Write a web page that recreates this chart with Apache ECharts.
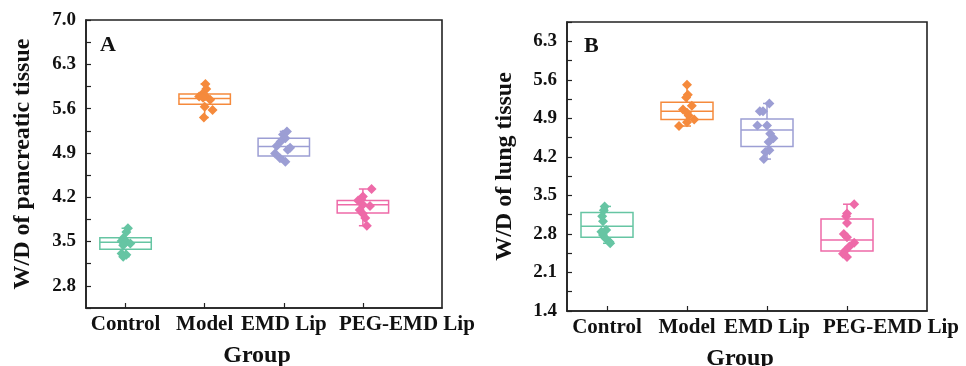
<!DOCTYPE html>
<html lang="en">
<head>
    <meta charset="UTF-8">
    <title>W/D boxplots</title>
    <script src="https://cdn.jsdelivr.net/npm/echarts/dist/echarts.min.js"></script>
    <style>
        body { margin: 0; background: #fff; }
        #main { width: 966px; height: 366px; }
    </style>
</head>
<body>
    <div id="main"></div>
    <script>
        // groups and colours
        const CATEGORIES = ['Control', 'Model', 'EMD Lip', 'PEG-EMD Lip'];
        const COLORS = ['#66c5a3', '#f58a3c', '#9c9ed4', '#ee6aa8'];

        // box stats per group: [min, Q1, median, Q3, max]
        const boxA = [
            [3.26, 3.38, 3.49, 3.56, 3.71],
            [5.46, 5.67, 5.76, 5.83, 5.99],
            [4.76, 4.85, 5.00, 5.13, 5.24],
            [3.75, 3.95, 4.08, 4.15, 4.33]
        ];
        const boxB = [
            [2.63, 2.74, 2.94, 3.19, 3.30],
            [4.76, 4.88, 5.03, 5.19, 5.51],
            [4.16, 4.39, 4.69, 4.89, 5.17],
            [2.38, 2.49, 2.69, 3.07, 3.34]
        ];

        // individual points (values) and their horizontal jitter
        const ptsA = [
            [3.71, 3.65, 3.55, 3.51, 3.50, 3.47, 3.44, 3.31, 3.29, 3.26],
            [5.99, 5.91, 5.83, 5.80, 5.79, 5.77, 5.74, 5.63, 5.58, 5.46],
            [5.24, 5.19, 5.13, 5.08, 5.01, 4.98, 4.95, 4.89, 4.82, 4.76],
            [4.33, 4.21, 4.17, 4.15, 4.08, 4.06, 4.00, 3.94, 3.87, 3.75]
        ];
        const jitA = [
            [0.03, 0.01, -0.03, -0.05, 0.01, 0.06, -0.03, -0.05, 0.01, -0.03],
            [0.01, 0.02, -0.03, 0.01, -0.07, -0.02, 0.07, 0.00, 0.10, -0.01],
            [0.04, -0.01, 0.02, -0.04, -0.09, 0.08, 0.05, -0.11, -0.05, 0.02],
            [0.11, 0.00, -0.02, -0.06, 0.00, 0.09, -0.04, 0.00, 0.03, 0.05]
        ];
        const ptsB = [
            [3.30, 3.23, 3.12, 3.03, 2.87, 2.84, 2.78, 2.72, 2.66, 2.63],
            [5.51, 5.33, 5.28, 5.13, 5.06, 5.00, 4.95, 4.88, 4.83, 4.76],
            [5.17, 5.03, 5.03, 4.77, 4.77, 4.62, 4.54, 4.47, 4.32, 4.29, 4.16],
            [3.34, 3.17, 3.12, 3.00, 2.80, 2.74, 2.64, 2.57, 2.50, 2.44, 2.38]
        ];
        const jitB = [
            [-0.03, -0.04, -0.06, -0.05, -0.01, -0.07, -0.05, -0.02, 0.03, 0.04],
            [0.00, 0.01, -0.01, 0.06, -0.05, 0.00, 0.02, 0.09, 0.00, -0.10],
            [0.03, -0.09, -0.05, -0.12, 0.00, 0.04, 0.08, 0.02, 0.03, -0.02, -0.04],
            [0.09, 0.00, -0.01, 0.00, -0.04, 0.00, 0.09, 0.03, -0.02, -0.05, 0.00]
        ];

        const BOX_W = 0.65;   // box width in x units
        const FONT = "'Liberation Serif', 'Times New Roman', serif";

        var chartDom = document.getElementById('main');
        var myChart = echarts.init(chartDom);

        function renderBox(params, api) {
            var x = api.value(0);
            var color = COLORS[api.value(6)];
            var half = api.size([BOX_W, 0])[0] / 2;
            var pLo = api.coord([x, api.value(1)]);
            var pQ1 = api.coord([x, api.value(2)]);
            var pMed = api.coord([x, api.value(3)]);
            var pQ3 = api.coord([x, api.value(4)]);
            var pHi = api.coord([x, api.value(5)]);
            var cx = pMed[0];
            var cap = 4;
            var style = { stroke: color, lineWidth: 1.5, fill: null };
            return {
                type: 'group',
                children: [
                    { type: 'line', shape: { x1: cx, y1: pQ3[1], x2: cx, y2: pHi[1] }, style: style },
                    { type: 'line', shape: { x1: cx, y1: pQ1[1], x2: cx, y2: pLo[1] }, style: style },
                    { type: 'line', shape: { x1: cx - cap, y1: pHi[1], x2: cx + cap, y2: pHi[1] }, style: style },
                    { type: 'line', shape: { x1: cx - cap, y1: pLo[1], x2: cx + cap, y2: pLo[1] }, style: style },
                    { type: 'rect', shape: { x: cx - half, y: pQ3[1], width: half * 2, height: pQ1[1] - pQ3[1] },
                      style: { stroke: color, lineWidth: 1.5, fill: '#fff' } },
                    { type: 'line', shape: { x1: cx - half, y1: pMed[1], x2: cx + half, y2: pMed[1] }, style: style }
                ]
            };
        }

        function boxData(stats) {
            return stats.map(function (s, i) { return [i + 1].concat(s).concat([i]); });
        }

        function pointSeries(pts, jit, idx) {
            return pts.map(function (vals, g) {
                return {
                    type: 'scatter',
                    xAxisIndex: idx, yAxisIndex: idx,
                    symbol: 'diamond',
                    symbolSize: 10,
                    z: 3,
                    itemStyle: { color: COLORS[g], opacity: 1 },
                    data: vals.map(function (v, k) { return [g + 1 + jit[g][k], v]; })
                };
            });
        }

        function xAxisCfg(idx) {
            return {
                type: 'value', gridIndex: idx, min: 0.5, max: 5,
                name: 'Group', nameLocation: 'middle', nameGap: 36,
                nameTextStyle: { fontFamily: FONT, fontWeight: 'bold', fontSize: 24, color: '#111', padding: [0, 14, 0, 0] },
                axisLine: { lineStyle: { color: '#222', width: 1.6 } },
                axisTick: { inside: true, length: 5, customValues: [1, 2, 3, 4], lineStyle: { color: '#222', width: 1.2 } },
                axisLabel: {
                    customValues: [1, 2, 3, 4], margin: 6,
                    fontFamily: FONT, fontWeight: 'bold', fontSize: 21, color: '#111',
                    formatter: function (v) {
                        var i = Math.round(v) - 1;
                        return i === 3 ? '{p|' + CATEGORIES[i] + '}' : CATEGORIES[i];
                    },
                    rich: { p: { fontFamily: FONT, fontWeight: 'bold', fontSize: 21, color: '#111', padding: [0, 0, 0, 88] } }
                },
                splitLine: { show: false }
            };
        }

        function yAxisCfg(idx, min, max, name, gap) {
            return {
                type: 'value', gridIndex: idx, min: min, max: max, interval: 0.35,
                name: name, nameLocation: 'middle', nameGap: gap,
                nameTextStyle: { fontFamily: FONT, fontWeight: 'bold', fontSize: 24, color: '#111' },
                axisLine: { show: true, lineStyle: { color: '#222', width: 1.6 } },
                axisTick: { inside: true, length: 5, lineStyle: { color: '#222', width: 1.2 } },
                axisLabel: {
                    margin: 10, fontFamily: FONT, fontWeight: 'bold', fontSize: 19, color: '#111',
                    formatter: function (v) { return Math.round(v / 0.35) % 2 === 0 ? v.toFixed(1) : ''; }
                },
                splitLine: { show: false }
            };
        }

        var option = {
            backgroundColor: '#fff',
            animation: false,
            title: [
                { text: 'A', left: 100, top: 34, padding: 0, textStyle: { fontFamily: FONT, fontWeight: 'bold', fontSize: 22, color: '#111' } },
                { text: 'B', left: 584, top: 35, padding: 0, textStyle: { fontFamily: FONT, fontWeight: 'bold', fontSize: 22, color: '#111' } }
            ],
            grid: [
                { left: 86, right: 524, top: 20, bottom: 58, show: true, borderColor: '#222', borderWidth: 1.6, outerBoundsMode: 'none' },
                { left: 567, right: 39, top: 22, bottom: 55, show: true, borderColor: '#222', borderWidth: 1.6, outerBoundsMode: 'none' }
            ],
            xAxis: [xAxisCfg(0), xAxisCfg(1)],
            yAxis: [
                yAxisCfg(0, 2.45, 7.0, 'W/D of pancreatic tissue', 51),
                yAxisCfg(1, 1.4, 6.65, 'W/D of lung tissue', 50)
            ],
            series: [
                {
                    type: 'custom', xAxisIndex: 0, yAxisIndex: 0, z: 2,
                    renderItem: renderBox,
                    encode: { x: 0, y: [1, 2, 3, 4, 5] },
                    data: boxData(boxA)
                },
                {
                    type: 'custom', xAxisIndex: 1, yAxisIndex: 1, z: 2,
                    renderItem: renderBox,
                    encode: { x: 0, y: [1, 2, 3, 4, 5] },
                    data: boxData(boxB)
                }
            ].concat(pointSeries(ptsA, jitA, 0)).concat(pointSeries(ptsB, jitB, 1))
        };

        myChart.setOption(option);
    </script>
</body>
</html>
